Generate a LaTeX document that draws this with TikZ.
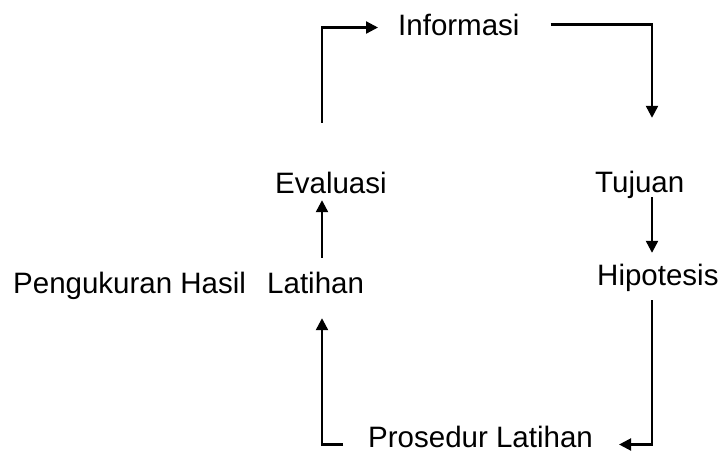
\documentclass[tikz,border=0pt]{standalone}
\usepackage{fontspec}
\setmainfont{Liberation Sans}
\usetikzlibrary{arrows.meta,calc}
\begin{document}
\begin{tikzpicture}[x=1pt,y=-1pt,
  lbl/.style={font=\fontsize{29.5}{34}\selectfont, inner sep=0pt, anchor=base west, text height=21pt, text depth=0pt},
  arr/.style={line width=2.3pt, -{Triangle[length=12pt,width=12pt]}}]
\useasboundingbox (0,0) rectangle (718,453);
\node[lbl] (informasi) at (398,35) {Informasi};
\node[lbl] (evaluasi) at (275,193) {Evaluasi};
\node[lbl] (tujuan) at (595,192) {Tujuan};
\node[lbl] (pengukuran) at (13,293) {Pengukuran Hasil};
\node[lbl] (latihan) at (267,293) {Latihan};
\node[lbl] (hipotesis) at (597,285) {Hipotesis};
\node[lbl] (prosedur) at (368,447) {Prosedur Latihan};
\coordinate (L) at (322,0);
\coordinate (R) at (652,0);
% Evaluasi -> Informasi
\draw[arr, shorten <=49pt, shorten >=20pt] (L |- evaluasi.north) |- ([yshift=-3pt]informasi.west);
% Informasi -> Tujuan
\draw[arr, shorten <=31pt, shorten >=53pt] (informasi.east) -| (R |- tujuan.north);
% Tujuan -> Hipotesis
\draw[arr, shorten <=5pt, shorten >=11pt] (R |- tujuan.south) -- (R |- hipotesis.north);
% Hipotesis -> Prosedur Latihan
\draw[arr, shorten <=15pt, shorten >=26pt] (R |- hipotesis.south) |- ([yshift=-8pt]prosedur.east);
% Prosedur Latihan -> Latihan
\draw[arr, shorten <=25pt, shorten >=25pt] ([yshift=-8pt]prosedur.west) -| (L |- latihan.south);
% Latihan -> Evaluasi
\draw[arr, shorten <=14pt, shorten >=7pt] (L |- latihan.north) -- (L |- evaluasi.south);
\end{tikzpicture}
\end{document}
